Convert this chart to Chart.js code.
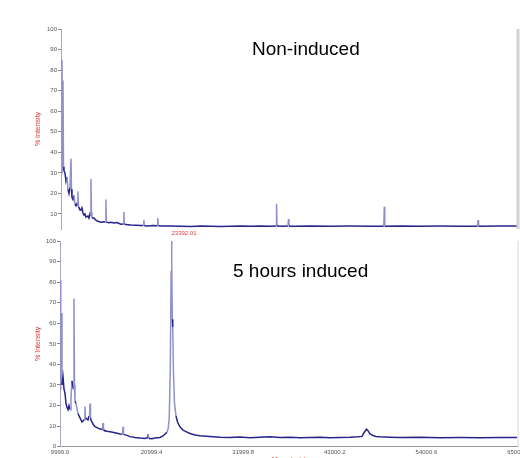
<!DOCTYPE html>
<html>
<head>
<meta charset="utf-8">
<script src="https://cdn.jsdelivr.net/npm/chart.js@4.4.1/dist/chart.umd.min.js"></script>
<style>
  html, body { margin: 0; padding: 0; background: #fff; overflow: hidden; width: 520px; height: 458px; }
  body { position: relative; font-family: "Liberation Sans", Arial, sans-serif; }
  #top { position: absolute; left: 0; top: 0; width: 520px; height: 236px; }
  #bot { position: absolute; left: 0; top: 226px; width: 520px; height: 242px; }
  .lbl { position: absolute; font-size: 19px; line-height: 1; color: #000; white-space: nowrap; }
</style>
</head>
<body>
<div id="top"><canvas id="c-top" width="520" height="236"></canvas></div>
<div id="bot"><canvas id="c-bot" width="520" height="242"></canvas></div>
<div class="lbl" style="left:252px;top:39px">Non-induced</div>
<div class="lbl" style="left:233px;top:261px">5 hours induced</div>
<script>
(function () {
  'use strict';

  // x ticks (mass, m/z) shared by both panels
  const X_TICKS = [9999.0, 20999.4, 31999.8, 43000.2, 54000.6, 65001.0];
  const TOP_Y_TICKS = [10, 20, 30, 40, 50, 60, 70, 80, 90, 100];
  const BOT_Y_TICKS = [0, 10, 20, 30, 40, 50, 60, 70, 80, 90, 100];

  // Non-induced spectrum
  const TOP_MASS = [10059, 10119, 10179, 10239, 10299, 10359, 10479, 10599, 10719, 10840,
    10960, 11080, 11200, 11260, 11320, 11440, 11560, 11680, 11800, 11920,
    11990, 12040, 12100, 12161, 12281, 12401, 12521, 12641, 12761, 12881, 13001, 13241,
    13362, 13482, 13560, 13602, 13662, 13722, 13962, 14202, 14442, 14803, 15163,
    15343, 15403, 15463, 15763, 16004, 16364, 16724, 17204, 17505, 17565, 17625, 18045,
    18405, 19006, 19606, 19906, 19966, 20026, 20567, 21047, 21588, 21648, 21708, 22248,
    23209, 24410, 25611, 26812, 28012, 29213, 30414, 31615, 32816, 34017,
    35218, 35878, 35938, 35998, 36659, 37319, 37379, 37439, 38220, 40022,
    42423, 44825, 47227, 48848, 48908, 48968, 50830, 53231, 55633, 58035,
    60136, 60196, 60256, 62839, 64880];
  const TOP_INT = [30, 85, 40, 75, 33, 31, 30, 26, 28, 22,
    20, 23, 37, 22, 18, 17, 19, 15, 14, 15,
    14, 21, 13.5, 13, 12, 12, 13, 10.5, 9.5, 10, 8.5, 9,
    8, 10, 9, 27, 11, 8, 8, 7, 6.5, 6, 6.2,
    6.1, 17, 6, 5.8, 6, 5.6, 5.8, 5, 5.1, 11, 5, 4.8,
    4.6, 4.5, 4.4, 4.4, 7, 4.3, 4.2, 4.4, 4.3, 8, 4.3, 4.2,
    4.1, 4, 3.9, 4.1, 4, 3.9, 4, 4.1, 4, 4.1,
    4, 4.2, 15, 4.1, 4, 4.1, 7.5, 4, 4, 4.1,
    4, 4.1, 4, 4, 13.5, 4, 4.1, 4, 4.1, 4,
    4, 7, 4, 4.1, 4.1];

  // 5 hours induced spectrum
  const BOT_MASS = [9999, 10059, 10119, 10179, 10239, 10359, 10479, 10599, 10719, 10840,
    10960, 11080, 11200, 11320, 11440, 11560, 11620, 11680, 11740, 11800, 11920,
    12161, 12401, 12641, 12881, 12950, 13001, 13060, 13121, 13362, 13482, 13550, 13602, 13660, 13722,
    13962, 14202, 14562, 14803, 15043, 15103, 15163, 15223, 15283, 15643, 16004, 16604,
    17204, 17505, 17565, 17625, 18045, 18405, 19006, 19606, 20207, 20447,
    20567, 20687, 21047, 21408, 22008, 22368, 22608, 22850, 23000, 23120,
    23250, 23340, 23392.01, 23440, 23490, 23540, 23620, 23750, 23930, 24110,
    24410, 24770, 25130, 25610, 26210, 26810, 28012, 29213, 30414, 31615,
    32816, 34017, 35218, 36419, 37620, 38821, 40022, 41222, 42423, 43624,
    44825, 45786, 46266, 46506, 46807, 46987, 47227, 47587, 47947, 48428,
    49629, 50830, 53231, 55633, 58035, 60437, 62839, 64880];
  const BOT_INT = [28, 81, 40, 65, 30, 34, 28, 26, 21, 19,
    18, 20, 18, 24, 32, 29, 28, 72, 30, 22, 21,
    16, 14, 12, 13, 13, 19.5, 14, 14, 13, 15, 15, 21, 14, 13,
    11, 9.7, 9, 8.6, 8.5, 8.4, 11.5, 8.2, 8, 7.5, 7.3, 6.8,
    6.2, 6.1, 9.7, 6, 5.5, 4.9, 4.5, 4.2, 4, 4.3,
    6, 4, 3.9, 4.2, 4.5, 5.2, 6.2, 7, 9, 14,
    40, 85, 100, 88, 62, 58, 37, 21, 15, 12,
    9.7, 8, 7.3, 6.4, 5.7, 5.3, 4.9, 4.6, 4.5, 4.7,
    4.4, 4.6, 4.8, 4.5, 4.6, 4.3, 4.5, 4.6, 4.4, 4.5,
    4.6, 4.8, 5, 6.8, 8.5, 7.8, 6.2, 5.4, 5, 4.8,
    4.6, 4.5, 4.6, 4.4, 4.5, 4.4, 4.5, 4.5];

  const LINE = '#25258c';
  const SPIKE = '#9090cc';
  const RED = '#e23a3a';
  const FONT = 'Liberation Sans, Arial, sans-serif';

  function points(xs, ys) {
    return xs.map((x, i) => ({ x, y: ys[i] }));
  }

  // sharp jumps (relative to the local level) are drawn lighter, like the thin spikes
  function segColor(c) {
    const a = c.p0.parsed.y, b = c.p1.parsed.y;
    const dy = Math.abs(b - a);
    return dy > Math.min(10, Math.max(1.8, 0.25 * Math.min(a, b))) ? SPIKE : LINE;
  }

  function spectrum(xs, ys) {
    return {
      data: points(xs, ys),
      borderColor: LINE,
      borderWidth: 1.5,
      pointRadius: 0,
      tension: 0,
      fill: false,
      segment: { borderColor: segColor },
    };
  }

  // grey frame line on the right edge of the plot
  const rightEdge = {
    id: 'rightEdge',
    afterDraw(chart) {
      const a = chart.chartArea, ctx = chart.ctx;
      ctx.save();
      ctx.strokeStyle = chart.options.plugins.rightEdge.color;
      ctx.lineWidth = chart.options.plugins.rightEdge.width;
      ctx.beginPath();
      ctx.moveTo(a.right, a.top);
      ctx.lineTo(a.right, a.bottom);
      ctx.stroke();
      ctx.restore();
    },
  };

  // mass label above the highest peak
  const peakLabel = {
    id: 'peakLabel',
    afterDatasetsDraw(chart) {
      if (!chart.options.plugins.peakLabel.show) return;
      const ds = chart.data.datasets[0].data;
      let best = ds[0];
      ds.forEach(p => { if (p.y > best.y) best = p; });
      const ctx = chart.ctx;
      const x = chart.scales.x.getPixelForValue(best.x);
      ctx.save();
      ctx.font = '6px ' + FONT;
      ctx.fillStyle = RED;
      ctx.textAlign = 'left';
      ctx.textBaseline = 'middle';
      ctx.fillText(best.x.toFixed(2), x, chart.chartArea.top - 7.5);
      ctx.restore();
    },
  };

  function yScale(min, ticks, width) {
    return {
      type: 'linear',
      min,
      max: 100,
      afterBuildTicks: s => { s.ticks = ticks.map(v => ({ value: v })); },
      afterFit: s => { s.width = width; s.paddingTop = 0; s.paddingBottom = 0; },
      ticks: { color: '#555', font: { size: 6, family: FONT }, padding: 1 },
      grid: { drawOnChartArea: false, tickLength: 3, color: '#888' },
      border: { color: '#a8a8c8', width: 1 },
      title: { display: true, text: '% Intensity', color: RED, font: { size: 7, family: FONT } },
    };
  }

  function xScale(show, height) {
    return {
      type: 'linear',
      display: show,
      min: X_TICKS[0],
      max: X_TICKS[X_TICKS.length - 1],
      afterBuildTicks: s => { s.ticks = X_TICKS.map(v => ({ value: v })); },
      afterFit: s => { s.height = height; s.paddingLeft = 0; s.paddingRight = 0; },
      ticks: {
        color: '#555', font: { size: 6, family: FONT }, padding: 2, maxRotation: 0,
        callback: v => Number(v).toFixed(1),
      },
      grid: { drawOnChartArea: false, drawTicks: false },
      border: { color: '#999', width: 1 },
      title: { display: true, text: 'Mass (m/z)', color: RED, font: { size: 7, family: FONT }, padding: { top: 0, bottom: 4 } },
    };
  }

  function base(pad) {
    return {
      responsive: false,
      animation: false,
      layout: { padding: pad },
      plugins: {
        legend: { display: false },
        tooltip: { enabled: false },
        rightEdge: { color: '#d2d2d2', width: 3 },
        peakLabel: { show: false },
      },
    };
  }

  const topOpts = base({ left: 30, right: 2, top: 29, bottom: 7 });
  topOpts.scales = { x: xScale(false, 0), y: yScale(2.7, TOP_Y_TICKS, 31) };
  new Chart(document.getElementById('c-top'), {
    type: 'line',
    data: { datasets: [spectrum(TOP_MASS, TOP_INT)] },
    options: topOpts,
    plugins: [rightEdge],
  });

  const botOpts = base({ left: 30, right: 2, top: 15, bottom: 0 });
  botOpts.plugins.rightEdge = { color: '#e4e4e4', width: 1.5 };
  botOpts.plugins.peakLabel = { show: true };
  botOpts.scales = { x: xScale(true, 21.3), y: yScale(0, BOT_Y_TICKS, 30) };
  new Chart(document.getElementById('c-bot'), {
    type: 'line',
    data: { datasets: [spectrum(BOT_MASS, BOT_INT)] },
    options: botOpts,
    plugins: [rightEdge, peakLabel],
  });
})();
</script>
</body>
</html>
